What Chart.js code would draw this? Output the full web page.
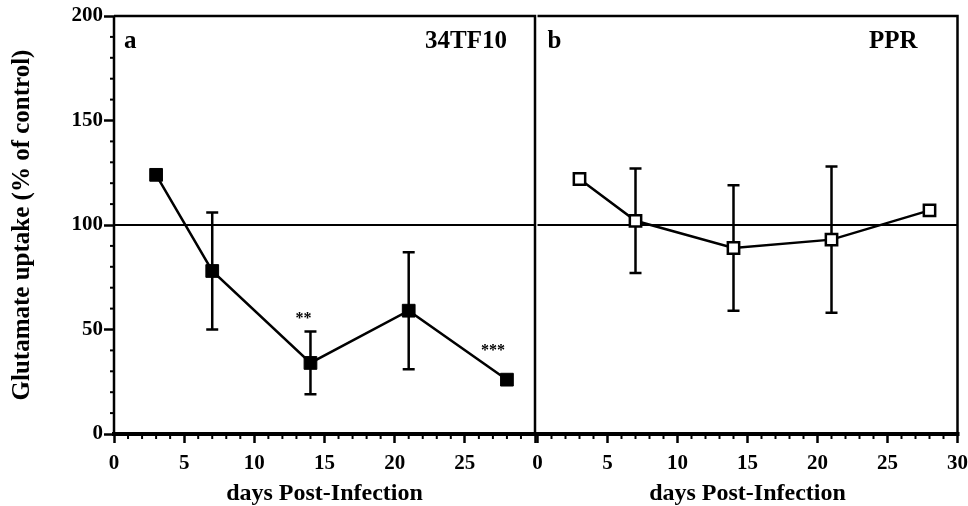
<!DOCTYPE html>
<html lang="en">
<head>
<meta charset="UTF-8">
<title>Glutamate uptake</title>
<script src="https://cdn.jsdelivr.net/npm/chart.js"></script>
<style>
    body { margin: 0; background: #fff; overflow: hidden; }
    .wrap { position: relative; width: 968px; height: 506px; }
    .panel { position: absolute; top: 0; height: 506px; }
    #panel-a { left: 0; width: 545px; }
    #panel-b { left: 527px; width: 441px; }
</style>
</head>
<body>
<div class="wrap">
    <div class="panel" id="panel-a"><canvas id="chart-a"></canvas></div>
    <div class="panel" id="panel-b"><canvas id="chart-b"></canvas></div>
</div>

<script>
    // values
    const days = [3, 7, 14, 21, 28];
    const uptake34TF10 = [124, 78, 34, 59, 26];
    const err34TF10 = [0, 28, 15, 28, 0];
    const uptakePPR = [122, 102, 89, 93, 107];
    const errPPR = [0, 25, 30, 35, 0];
    const xTicks = [0, 5, 10, 15, 20, 25, 30];
    const yTicks = [0, 50, 100, 150, 200];
    const controlLevel = 100;
    // significance marks: [day, uptake, text]
    const stars34TF10 = [[13.5, 55, '**'], [27, 40, '***']];

    const serif = '"Liberation Serif", "Times New Roman", serif';

    function points(ys) {
        return days.map((d, i) => ({ x: d, y: ys[i] }));
    }

    // frame, control line, minor ticks, error bars, labels
    function decor(panel, errs, ys, stars, tag, name, nameGap) {
        return {
            id: 'decor' + panel,
            beforeDatasetsDraw(chart) {
                const c = chart.ctx, a = chart.chartArea;
                const xs = chart.scales.x, ysc = chart.scales.y;
                c.save();
                c.strokeStyle = '#000';
                // control line
                c.lineWidth = 2;
                const yc = ysc.getPixelForValue(controlLevel);
                c.beginPath(); c.moveTo(a.left, yc); c.lineTo(a.right, yc); c.stroke();
                // frame (panel b shares its left edge with panel a)
                c.lineWidth = 2.5;
                c.beginPath();
                c.moveTo(a.left, a.top); c.lineTo(a.right, a.top); c.lineTo(a.right, a.bottom);
                if (panel === 'a') { c.moveTo(a.left, a.top); c.lineTo(a.left, a.bottom); }
                c.stroke();
                c.lineWidth = 4;
                c.beginPath(); c.moveTo(a.left - 2, a.bottom); c.lineTo(a.right + 2, a.bottom); c.stroke();
                // minor x ticks
                c.lineWidth = 2;
                for (let v = 0; v <= 30; v++) {
                    if (v % 5 === 0) continue;
                    const px = xs.getPixelForValue(v);
                    c.beginPath(); c.moveTo(px, a.bottom); c.lineTo(px, a.bottom + 5); c.stroke();
                }
                // minor y ticks on left panel
                if (panel === 'a') {
                    for (let v = 10; v < 200; v += 10) {
                        if (v % 50 === 0) continue;
                        const py = ysc.getPixelForValue(v);
                        c.beginPath(); c.moveTo(a.left - 4, py); c.lineTo(a.left + 1, py); c.stroke();
                    }
                }
                // error bars
                c.lineWidth = 2.5;
                days.forEach((d, i) => {
                    if (!errs[i]) return;
                    const px = xs.getPixelForValue(d);
                    const hi = ysc.getPixelForValue(ys[i] + errs[i]);
                    const lo = ysc.getPixelForValue(ys[i] - errs[i]);
                    c.beginPath();
                    c.moveTo(px, hi); c.lineTo(px, lo);
                    c.moveTo(px - 6, hi); c.lineTo(px + 6, hi);
                    c.moveTo(px - 6, lo); c.lineTo(px + 6, lo);
                    c.stroke();
                });
                // labels
                c.fillStyle = '#000';
                c.font = 'bold 25px ' + serif;
                c.textBaseline = 'alphabetic';
                c.textAlign = 'left';
                c.fillText(tag, a.left + 10, a.top + 32);
                c.textAlign = 'right';
                c.fillText(name, a.right - nameGap, a.top + 32);
                c.font = 'bold 16px ' + serif;
                c.textAlign = 'center';
                c.textBaseline = 'middle';
                stars.forEach(s => {
                    c.fillText(s[2], xs.getPixelForValue(s[0]), ysc.getPixelForValue(s[1]));
                });
                c.restore();
            }
        };
    }

    function xScale(hideLast) {
        return {
            type: 'linear',
            min: 0,
            max: 30,
            afterBuildTicks: s => { s.ticks = xTicks.map(v => ({ value: v })); },
            afterFit: s => { s.height = 72; s.paddingLeft = 0; s.paddingRight = 0; },
            border: { display: false },
            grid: { drawOnChartArea: false, drawTicks: true, tickLength: 9, tickWidth: 2.5, color: '#000' },
            ticks: {
                color: '#000',
                padding: 8,
                maxRotation: 0,
                font: { family: serif, size: 21, weight: 'bold' },
                callback: v => (hideLast && v === 30) ? '' : v
            },
            title: {
                display: true,
                text: 'days Post-Infection',
                color: '#000',
                padding: { top: 0, bottom: 0 },
                font: { family: serif, size: 24, weight: 'bold', lineHeight: 1 }
            }
        };
    }

    const ctxA = document.getElementById('chart-a');

    new Chart(ctxA, {
        type: 'line',
        data: {
            datasets: [{
                label: '34TF10',
                data: points(uptake34TF10),
                borderColor: '#000',
                backgroundColor: '#000',
                borderWidth: 2.5,
                pointStyle: 'rect',
                pointRadius: 9,
                pointBorderWidth: 1
            }]
        },
        options: {
            responsive: true,
            maintainAspectRatio: false,
            animation: false,
            layout: { padding: { top: 16, right: 8, left: 0, bottom: 0 } },
            plugins: { legend: { display: false }, tooltip: { enabled: false } },
            scales: {
                x: xScale(true),
                y: {
                    min: 0,
                    max: 200,
                    afterBuildTicks: s => { s.ticks = yTicks.map(v => ({ value: v })); },
                    afterFit: s => { s.width = 114; },
                    border: { display: false },
                    grid: { drawOnChartArea: false, drawTicks: true, tickLength: 10, tickWidth: 2.5, color: '#000' },
                    ticks: {
                        color: '#000',
                        padding: 1,
                        font: { family: serif, size: 21, weight: 'bold' }
                    },
                    title: {
                        display: true,
                        text: 'Glutamate uptake (% of control)',
                        color: '#000',
                        padding: { top: 8, bottom: 0 },
                        font: { family: serif, size: 25, weight: 'bold' }
                    }
                }
            }
        },
        plugins: [decor('a', err34TF10, uptake34TF10, stars34TF10, 'a', '34TF10', 28)]
    });

    const ctxB = document.getElementById('chart-b');

    new Chart(ctxB, {
        type: 'line',
        data: {
            datasets: [{
                label: 'PPR',
                data: points(uptakePPR),
                borderColor: '#000',
                backgroundColor: '#fff',
                borderWidth: 2.5,
                pointStyle: 'rect',
                pointRadius: 8,
                pointBorderWidth: 2.5
            }]
        },
        options: {
            responsive: true,
            maintainAspectRatio: false,
            animation: false,
            layout: { padding: { top: 16, right: 10, left: 10, bottom: 0 } },
            plugins: { legend: { display: false }, tooltip: { enabled: false } },
            scales: {
                x: xScale(false),
                y: { min: 0, max: 200, display: false }
            }
        },
        plugins: [decor('b', errPPR, uptakePPR, [], 'b', 'PPR', 40)]
    });
</script>
</body>
</html>
